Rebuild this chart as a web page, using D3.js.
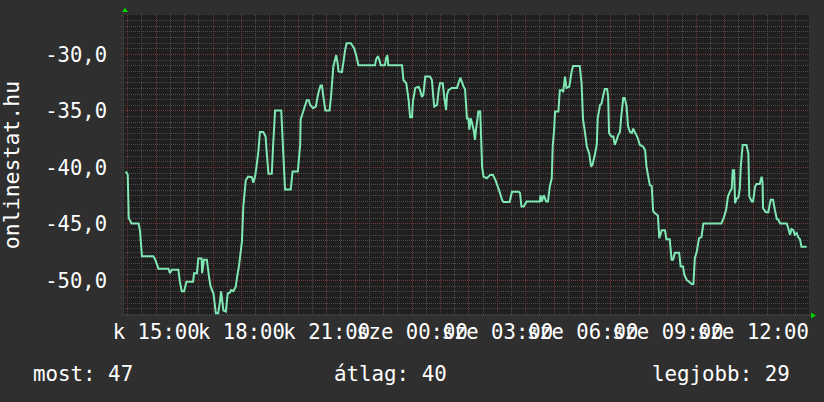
<!DOCTYPE html>
<html><head><meta charset="utf-8">
<script src="https://cdn.jsdelivr.net/npm/d3@7"></script>
<style>
html,body{margin:0;padding:0;background:#2f2f2f;}
svg{display:block;}
text{font-family:"DejaVu Sans Mono",monospace;fill:#ffffff;}
</style></head>
<body>
<svg id="chart" width="824" height="402"></svg>
<script>
// ---- data (minutes after chart start on Tuesday, value) ----
const minutes = [6,10,12,18,33,36,40,64,68,75,96,99,103,117,120,124,129,134,148,150,156,159,166,167,171,177,182,185,191,196,201,205,207,212,217,221,226,228,233,238,241,245,251,254,259,264,272,275,279,282,286,289,296,301,303,307,314,317,321,334,338,342,354,358,369,374,375,381,388,392,395,401,407,412,417,420,423,427,436,439,444,450,453,455,462,465,469,472,481,488,492,497,532,534,538,541,544,553,555,558,560,589,592,598,600,603,606,610,612,617,624,627,631,634,638,648,652,655,657,663,666,669,675,678,682,684,687,694,705,708,712,715,719,722,726,729,731,734,736,740,743,745,748,750,754,758,761,768,775,781,786,790,795,800,803,816,821,835,838,841,846,852,880,881,884,888,893,897,901,905,907,910,912,919,922,928,929,933,936,942,947,950,964,968,971,975,979,984,988,991,996,1000,1002,1007,1010,1014,1017,1022,1024,1026,1031,1035,1038,1042,1045,1049,1052,1056,1059,1063,1066,1070,1074,1077,1080,1084,1087,1091,1098,1102,1105,1108,1112,1116,1119,1123,1129,1132,1137,1144,1147,1154,1158,1161,1165,1174,1177,1182,1185,1190,1195,1200,1204,1207,1211,1216,1221,1225,1263,1268,1273,1277,1281,1285,1287,1290,1292,1295,1299,1302,1304,1308,1316,1320,1322,1327,1330,1334,1337,1344,1348,1350,1351,1357,1362,1367,1372,1376,1380,1383,1387,1401,1404,1408,1411,1415,1418,1422,1425,1429,1432,1443];
const values = [-40.4,-40.7,-44.5,-45.0,-45.0,-45.7,-47.9,-47.9,-48.2,-49.0,-49.0,-49.4,-49.1,-49.1,-50.15,-51.0,-51.0,-50.15,-50.15,-49.4,-49.4,-48.1,-48.1,-49.4,-48.2,-48.2,-49.85,-50.6,-51.2,-52.95,-52.95,-51.8,-51.0,-52.7,-52.8,-51.2,-51.1,-50.9,-51.0,-50.6,-49.7,-48.7,-46.6,-43.5,-41.2,-40.85,-40.9,-41.4,-40.8,-39.9,-38.5,-36.9,-36.9,-37.3,-38.5,-40.6,-40.6,-38.0,-35.0,-35.0,-38.5,-42.0,-42.0,-40.4,-40.4,-38.0,-35.8,-35.0,-34.1,-34.1,-34.5,-34.8,-34.65,-33.5,-32.8,-32.8,-33.8,-35.0,-35.0,-33.8,-31.1,-30.1,-30.8,-31.55,-31.6,-30.8,-29.6,-29.05,-29.05,-29.5,-30.1,-31.0,-31.0,-30.5,-30.2,-30.5,-31.0,-31.0,-30.4,-30.1,-31.0,-31.0,-32.3,-32.6,-33.2,-34.1,-35.6,-35.6,-34.2,-33.0,-32.9,-33.2,-33.8,-33.6,-32.0,-32.0,-32.3,-33.8,-34.65,-34.5,-33.3,-32.6,-32.6,-33.8,-34.96,-33.6,-33.2,-33.0,-33.0,-32.6,-32.1,-32.45,-32.9,-33.1,-35.7,-35.7,-36.7,-35.7,-36.0,-36.7,-37.6,-36.7,-35.8,-35.1,-35.1,-39.97,-40.86,-41.0,-40.7,-40.7,-41.15,-41.6,-42.2,-42.9,-43.1,-43.1,-42.2,-42.2,-42.3,-43.5,-43.5,-43.05,-43.05,-42.5,-43.05,-42.5,-43.05,-43.05,-41.7,-41.0,-38.2,-36.7,-35.1,-35.1,-33.2,-33.2,-33.4,-32.0,-33.0,-32.9,-31.55,-31.06,-31.06,-32.6,-35.8,-36.9,-38.2,-38.8,-39.97,-39.8,-38.9,-38.05,-35.7,-34.5,-34.4,-33.6,-33.1,-33.1,-33.8,-37.0,-37.3,-37.3,-38.05,-37.6,-37.2,-36.9,-35.4,-33.9,-33.9,-34.65,-36.4,-36.9,-37.0,-36.6,-36.9,-37.2,-37.5,-38.05,-38.2,-38.5,-39.97,-40.7,-41.6,-41.7,-43.9,-44.1,-44.3,-46.3,-45.6,-45.6,-46.4,-46.4,-48.2,-48.2,-47.6,-47.6,-48.8,-48.8,-49.56,-50.0,-50.15,-50.35,-50.35,-48.1,-47.5,-46.3,-46.2,-45.0,-45.0,-44.5,-43.8,-42.6,-42.2,-41.9,-40.3,-40.3,-43.2,-42.8,-42.7,-41.9,-39.97,-38.05,-38.05,-38.8,-42.6,-43.05,-43.05,-41.75,-41.5,-41.5,-40.86,-41.4,-43.65,-44.0,-44.0,-42.9,-42.9,-43.8,-44.6,-44.65,-45.0,-45.0,-45.4,-46.0,-45.5,-45.6,-46.0,-45.85,-46.2,-46.4,-47.05,-47.05];
const yDomain = [-53.1, -26.55];
const yTicks = [-50, -45, -40, -35, -30];
const yTickLabels = ["-50,0", "-45,0", "-40,0", "-35,0", "-30,0"];
const xTickHours = [15, 18, 21, 24, 27, 30, 33, 36]; // hours after Tue 00:00
const xTickLabels = ["k 15:00", "k 18:00", "k 21:00", "sze 00:00", "sze 03:00", "sze 06:00", "sze 09:00", "sze 12:00"];
const legendLabels = ["most: 47", "átlag: 40", "legjobb: 29"];
const yTitle = "onlinestat.hu";
const spanMinutes = 1448;

// ---- layout ----
const W = 824, H = 402;
const plot = {left: 123, top: 15, right: 809, bottom: 315};
const svg = d3.select("#chart");
const day0 = new Date(2013, 2, 5, 0, 0);
const t0 = new Date(2013, 2, 5, 13, 51);
const t1 = d3.timeMinute.offset(t0, spanMinutes);
const x = d3.scaleTime().domain([t0, t1]).range([plot.left, plot.right]);
const y = d3.scaleLinear().domain(yDomain).range([plot.bottom, plot.top]);

svg.append("rect").attr("x", 0).attr("y", 0).attr("width", W).attr("height", H).attr("fill", "#2f2f2f");
svg.append("rect").attr("x", plot.left).attr("y", plot.top)
  .attr("width", plot.right - plot.left).attr("height", plot.bottom - plot.top).attr("fill", "#1f1f1f");

const minorCol = "#4d4d4d", majorCol = "#763333";
const g = svg.append("g").attr("shape-rendering", "crispEdges");

// horizontal grid (minor every 0.5, major every 5)
const hMinor = d3.range(Math.ceil(yDomain[0] * 2) / 2, yDomain[1], 0.5).filter(v => Math.abs(v % 5) > 1e-6);
g.selectAll(".hmin").data(hMinor).join("line")
  .attr("x1", plot.left - 2).attr("x2", plot.right + 2)
  .attr("y1", d => Math.round(y(d)) + 0.5).attr("y2", d => Math.round(y(d)) + 0.5)
  .attr("stroke", minorCol).attr("stroke-dasharray", "1,1");
g.selectAll(".hmaj").data(yTicks).join("line")
  .attr("x1", plot.left - 2).attr("x2", plot.right + 2)
  .attr("y1", d => Math.round(y(d)) + 0.5).attr("y2", d => Math.round(y(d)) + 0.5)
  .attr("stroke", majorCol).attr("stroke-dasharray", "1,1");

// vertical grid: minor every 30 min, major each hour
const halfHours = d3.timeMinute.every(30).range(t0, t1);
g.selectAll(".vgrid").data(halfHours).join("line")
  .attr("x1", d => Math.round(x(d)) + 0.5).attr("x2", d => Math.round(x(d)) + 0.5)
  .attr("y1", plot.top).attr("y2", plot.bottom + 2)
  .attr("stroke", d => d.getMinutes() === 0 ? majorCol : minorCol)
  .attr("stroke-dasharray", "1,1");

// axis lines
g.append("line").attr("x1", plot.left + 0.5).attr("x2", plot.left + 0.5)
  .attr("y1", plot.top - 4).attr("y2", plot.bottom).attr("stroke", "#3a3a3a");
g.append("line").attr("x1", plot.left).attr("x2", plot.right + 4)
  .attr("y1", plot.bottom + 0.5).attr("y2", plot.bottom + 0.5).attr("stroke", "#3a3a3a");

// arrows
svg.append("path").attr("d", `M${plot.left - 1},${plot.top - 3} l3,-4.5 l3,4.5 z`).attr("fill", "#00d000");
svg.append("path").attr("d", `M${plot.right + 2},${plot.bottom - 2.5} l5,3 l-5,3 z`).attr("fill", "#00d000");

// y tick labels
const yAxis = d3.axisLeft(y).tickValues(yTicks).tickSize(0).tickPadding(0)
  .tickFormat((d, i) => yTickLabels[i]);
const ya = svg.append("g").attr("transform", `translate(107,0)`).call(yAxis);
ya.select(".domain").remove();
ya.selectAll("text").attr("font-family", "DejaVu Sans Mono").attr("font-size", "20.5px")
  .attr("fill", "#fff").attr("dy", "0.36em");

// x tick labels
const xTickTimes = xTickHours.map(h => d3.timeHour.offset(day0, h));
const xAxis = d3.axisBottom(x).tickValues(xTickTimes).tickSize(0).tickPadding(0)
  .tickFormat((d, i) => xTickLabels[i]);
const xa = svg.append("g").attr("transform", `translate(0,339)`).call(xAxis);
xa.select(".domain").remove();
xa.selectAll("text").attr("font-family", "DejaVu Sans Mono").attr("font-size", "20.6px")
  .attr("fill", "#fff").attr("dy", "0").attr("y", 0);

// line
const pts = minutes.map((m, i) => ({t: d3.timeMinute.offset(t0, m), v: values[i]}));
const line = d3.line().x(d => x(d.t)).y(d => y(d.v)).curve(d3.curveLinear);
svg.append("path").datum(pts).attr("d", line)
  .attr("fill", "none").attr("stroke", "#7fe8b4").attr("stroke-width", 2)
  .attr("stroke-linejoin", "miter").attr("stroke-miterlimit", 2);

// y title
svg.append("text").attr("transform", "translate(18.5,165) rotate(-90)")
  .attr("text-anchor", "middle").attr("font-size", "21.5px").text(yTitle);

// legend
const legendX = [33, 334, 652];
svg.selectAll(".leg").data(legendLabels).join("text")
  .attr("x", (d, i) => legendX[i]).attr("y", 381)
  .attr("font-size", "20.8px").text(d => d);
</script>
</body></html>
